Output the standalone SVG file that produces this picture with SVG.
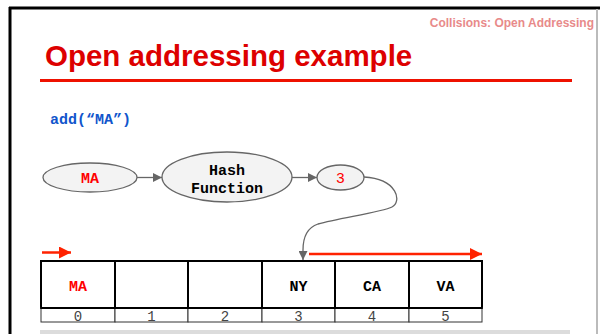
<svg xmlns="http://www.w3.org/2000/svg" width="600" height="334" viewBox="0 0 600 334">
<defs>
<style>
.mono{font-family:"Liberation Mono","Courier New",monospace;font-weight:bold;font-size:15px;text-anchor:middle}
.node ellipse{fill:#f3f3f3;stroke:#666;stroke-width:1.3}
.conn{stroke:#666;stroke-width:1.3;fill:none}
.red{fill:#ff0000}
.cell{fill:#fff;stroke:#000;stroke-width:2}
.idx{fill:#fff;stroke:#333;stroke-width:1}
.num{font-family:"Liberation Mono","Courier New",monospace;font-size:14px;fill:#444;text-anchor:middle}
.redarrow{stroke:#ff2200;stroke-width:2.5;fill:none}
</style>
<marker id="ag" viewBox="0 0 10 10" refX="10" refY="5" markerWidth="9" markerHeight="9" markerUnits="userSpaceOnUse" orient="auto"><path d="M0,0 L10,5 L0,10 Z" fill="#666"/></marker>
<marker id="ar" viewBox="0 0 10 10" refX="10" refY="5" markerWidth="13" markerHeight="12" markerUnits="userSpaceOnUse" orient="auto"><path d="M0,0 L10,5 L0,10 Z" fill="#ff2200"/></marker>
</defs>
<rect x="0" y="0" width="600" height="334" fill="#fff"/>
<g id="frame">
<line x1="9" y1="8" x2="600" y2="8" stroke="#000" stroke-width="3"/>
<line x1="10" y1="7" x2="10" y2="334" stroke="#000" stroke-width="3"/>
<line x1="597" y1="9" x2="597" y2="334" stroke="#bbb" stroke-width="2"/>
<rect x="40" y="330" width="530" height="4" fill="#dcdcdc"/>
</g>
<text x="594" y="27" font-family="Liberation Sans, Arial, sans-serif" font-weight="bold" font-size="12" fill="#e88a8a" text-anchor="end">Collisions: Open Addressing</text>
<text x="45" y="66" font-family="Liberation Sans, Arial, sans-serif" font-weight="bold" font-size="29.5" fill="#dd0000">Open addressing example</text>
<line x1="40" y1="80.5" x2="572" y2="80.5" stroke="#ee1100" stroke-width="3"/>
<text x="50" y="124" class="mono" style="text-anchor:start" fill="#1155cc">add(“MA”)</text>
<g id="connectors">
<line class="conn" x1="137" y1="177.5" x2="162" y2="177.5" marker-end="url(#ag)"/>
<line class="conn" x1="292" y1="177.5" x2="317" y2="177.5" marker-end="url(#ag)"/>
<path class="conn" d="M364,177 C398,179 402,202 392,207 C382,212 340,218 318,224 C306,228 303,238 303,250 L303,260" marker-end="url(#ag)"/>
<line class="redarrow" x1="42" y1="252.5" x2="71" y2="252.5" marker-end="url(#ar)"/>
<line class="redarrow" x1="309" y1="254" x2="482" y2="254" marker-end="url(#ar)"/>
</g>
<g id="node-ma" class="node"><ellipse cx="90" cy="177.5" rx="47" ry="14.5"/><text x="90" y="182.5" class="mono red">MA</text></g>
<g id="node-hash" class="node"><ellipse cx="227" cy="177" rx="65" ry="25"/><text x="227" y="174.5" class="mono" fill="#000">Hash</text><text x="227" y="192.5" class="mono" fill="#000">Function</text></g>
<g id="node-3" class="node"><ellipse cx="340.5" cy="177.5" rx="23.5" ry="12.5"/><text x="340.5" y="183" font-family="Liberation Sans, Arial, sans-serif" font-size="15" text-anchor="middle" class="red">3</text></g>
<g id="table">
<rect class="cell" x="41" y="261" width="74" height="47"/>
<rect class="cell" x="115" y="261" width="73" height="47"/>
<rect class="cell" x="188" y="261" width="74" height="47"/>
<rect class="cell" x="262" y="261" width="73" height="47"/>
<rect class="cell" x="335" y="261" width="74" height="47"/>
<rect class="cell" x="409" y="261" width="73" height="47"/>
<rect class="idx" x="41" y="308" width="74" height="14"/>
<rect class="idx" x="115" y="308" width="73" height="14"/>
<rect class="idx" x="188" y="308" width="74" height="14"/>
<rect class="idx" x="262" y="308" width="73" height="14"/>
<rect class="idx" x="335" y="308" width="74" height="14"/>
<rect class="idx" x="409" y="308" width="73" height="14"/>
<line x1="41" y1="308" x2="482" y2="308" stroke="#000" stroke-width="2"/>
<text x="78" y="291" class="mono red">MA</text>
<text x="298.5" y="291" class="mono" fill="#000">NY</text>
<text x="372" y="291" class="mono" fill="#000">CA</text>
<text x="445.5" y="291" class="mono" fill="#000">VA</text>
<text x="78" y="321" class="num">0</text>
<text x="151.5" y="321" class="num">1</text>
<text x="225" y="321" class="num">2</text>
<text x="298.5" y="321" class="num">3</text>
<text x="372" y="321" class="num">4</text>
<text x="445.5" y="321" class="num">5</text>
</g>
</svg>
